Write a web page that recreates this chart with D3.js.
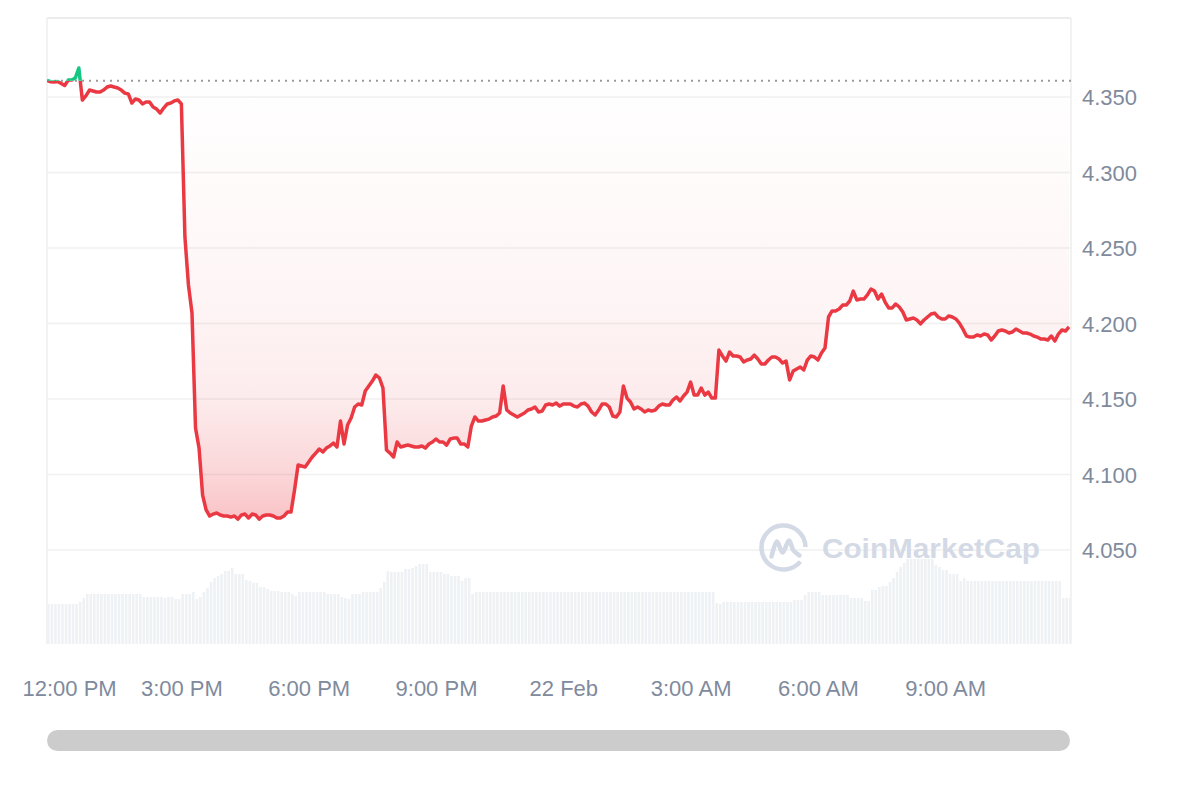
<!DOCTYPE html>
<html>
<head>
<meta charset="utf-8">
<script src="https://cdnjs.cloudflare.com/ajax/libs/d3/7.8.5/d3.min.js"></script>
<style>
body{margin:0;background:#fff;}
text{font-family:"Liberation Sans",Arial,sans-serif;}
</style>
</head>
<body>
<svg id="chart" width="1200" height="800"></svg>
<script>
// 5 minute points, 21 Feb 11:50 -> 22 Feb 11:55
var startTime = new Date(2024,1,21,11,50)
var stepMinutes = 5

var prices = [
4.3610,4.3601,4.3600,4.3603,4.3590,4.3576,4.3612,4.3613,4.3626,4.3692,
4.3480,4.3507,4.3546,4.3540,4.3533,4.3533,4.3546,4.3566,4.3573,4.3566,
4.3560,4.3546,4.3526,4.3520,4.3460,4.3487,4.3480,4.3454,4.3467,4.3467,
4.3434,4.3420,4.3394,4.3427,4.3454,4.3460,4.3474,4.3480,4.3454,4.2573,
4.2255,4.2069,4.1308,4.1175,4.0864,4.0765,4.0725,4.0738,4.0745,4.0732,
4.0725,4.0725,4.0718,4.0725,4.0705,4.0732,4.0738,4.0712,4.0738,4.0732,
4.0705,4.0725,4.0732,4.0732,4.0725,4.0712,4.0712,4.0725,4.0751,4.0751,
4.0897,4.1063,4.1056,4.1049,4.1083,4.1116,4.1142,4.1169,4.1149,4.1175,
4.1189,4.1208,4.1182,4.1354,4.1202,4.1328,4.1374,4.1447,4.1467,4.1460,
4.1553,4.1586,4.1619,4.1659,4.1639,4.1573,4.1162,4.1142,4.1116,4.1215,
4.1182,4.1189,4.1195,4.1189,4.1182,4.1182,4.1189,4.1175,4.1202,4.1215,
4.1235,4.1215,4.1215,4.1195,4.1235,4.1241,4.1241,4.1202,4.1202,4.1182,
4.1321,4.1381,4.1354,4.1354,4.1361,4.1367,4.1381,4.1387,4.1407,4.1586,
4.1427,4.1407,4.1394,4.1381,4.1394,4.1407,4.1427,4.1434,4.1447,4.1414,
4.1420,4.1460,4.1467,4.1460,4.1473,4.1453,4.1467,4.1467,4.1467,4.1453,
4.1447,4.1467,4.1473,4.1453,4.1414,4.1394,4.1427,4.1467,4.1467,4.1447,
4.1387,4.1381,4.1414,4.1586,4.1506,4.1480,4.1434,4.1447,4.1434,4.1414,
4.1427,4.1420,4.1427,4.1453,4.1467,4.1460,4.1460,4.1493,4.1513,4.1487,
4.1520,4.1546,4.1612,4.1526,4.1526,4.1573,4.1526,4.1546,4.1506,4.1506,
4.1824,4.1785,4.1751,4.1811,4.1785,4.1785,4.1778,4.1745,4.1758,4.1765,
4.1791,4.1765,4.1732,4.1732,4.1758,4.1778,4.1778,4.1765,4.1738,4.1751,
4.1626,4.1685,4.1699,4.1712,4.1692,4.1758,4.1785,4.1778,4.1758,4.1805,
4.1838,4.2043,4.2083,4.2083,4.2096,4.2122,4.2122,4.2149,4.2215,4.2156,
4.2162,4.2162,4.2189,4.2228,4.2215,4.2162,4.2195,4.2142,4.2103,4.2103,
4.2129,4.2109,4.2076,4.2023,4.2030,4.2036,4.2023,4.1997,4.2023,4.2043,
4.2063,4.2069,4.2043,4.2030,4.2030,4.2050,4.2043,4.2030,4.2003,4.1963,
4.1917,4.1910,4.1910,4.1924,4.1917,4.1930,4.1924,4.1891,4.1917,4.1950,
4.1957,4.1950,4.1937,4.1944,4.1963,4.1950,4.1937,4.1937,4.1930,4.1917,
4.1910,4.1897,4.1897,4.1891,4.1917,4.1884,4.1930,4.1957,4.1950,4.1977
]

// volume, arbitrary units
var volumes = [
4.0,4.0,4.0,4.0,4.0,4.0,4.0,4.0,4.0,4.2,
4.6,5.0,5.0,5.0,5.0,5.0,5.0,5.0,5.0,5.0,
5.0,5.0,5.0,5.0,5.0,5.0,5.0,4.7,4.7,4.7,
4.7,4.7,4.7,4.6,4.7,4.7,4.5,4.5,5.0,5.0,
5.0,5.2,4.5,4.7,5.2,5.6,6.2,6.6,6.8,7.0,
7.3,7.3,7.6,7.0,7.0,7.0,6.4,6.3,6.1,6.1,
5.7,5.7,5.5,5.3,5.3,5.3,5.2,5.2,5.2,5.0,
4.8,5.2,5.2,5.2,5.2,5.2,5.2,5.2,5.2,5.0,
5.0,5.0,5.0,4.7,4.6,4.5,5.0,5.0,5.0,5.2,
5.2,5.2,5.2,5.2,5.6,6.2,7.3,7.2,7.2,7.2,
7.2,7.5,7.5,7.6,7.8,8.0,8.0,8.0,7.2,7.2,
7.2,7.2,7.0,7.0,6.8,6.8,6.8,6.3,6.6,6.6,
5.0,5.2,5.2,5.2,5.2,5.2,5.2,5.2,5.2,5.2,
5.2,5.2,5.2,5.2,5.2,5.2,5.2,5.2,5.2,5.2,
5.2,5.2,5.2,5.2,5.2,5.2,5.2,5.2,5.2,5.2,
5.2,5.2,5.2,5.2,5.2,5.2,5.2,5.2,5.2,5.2,
5.2,5.2,5.2,5.2,5.2,5.2,5.2,5.2,5.2,5.2,
5.2,5.2,5.2,5.2,5.2,5.2,5.2,5.2,5.2,5.2,
5.2,5.2,5.2,5.2,5.2,5.2,5.2,5.2,5.2,4.1,
4.0,4.2,4.2,4.2,4.2,4.2,4.2,4.2,4.2,4.2,
4.2,4.2,4.2,4.2,4.2,4.2,4.2,4.2,4.2,4.2,
4.2,4.4,4.4,4.4,4.9,5.2,5.2,5.2,5.2,4.9,
4.9,4.9,4.9,4.9,4.9,4.9,4.9,4.6,4.6,4.6,
4.6,4.3,4.3,5.4,5.4,5.7,5.8,5.8,6.2,6.6,
7.2,7.7,8.1,8.5,8.5,8.5,8.5,8.5,8.5,8.5,
8.5,7.9,7.7,7.4,7.4,7.0,7.0,7.0,6.3,6.6,
6.3,6.3,6.3,6.3,6.3,6.3,6.3,6.3,6.3,6.3,
6.3,6.3,6.3,6.3,6.3,6.3,6.3,6.3,6.3,6.3,
6.3,6.3,6.3,6.3,6.3,6.3,6.3,4.6,4.6,4.6
]

var openPrice = 4.3608
var priceTicks = [4.05,4.10,4.15,4.20,4.25,4.30,4.35]

var red = "#ea3943"
var green = "#16c784"
var textColor = "#808a9d"

var data = prices.map(function(p,i){
    return {
        time:new Date(startTime.getTime()+i*stepMinutes*60000),
        price:p,
        volume:volumes[i]
    }
})

var plot = {left:47,right:1071,top:18,bottom:644}

var svg = d3.select("#chart")

var xScale = d3.scaleTime()
    .domain(d3.extent(data,function(d){return d.time}))
    .range([plot.left,1069])
var yScale = d3.scaleLinear()
    .domain([4.05,4.35])
    .range([550,97])
var volScale = d3.scaleLinear()
    .domain([0,10])
    .range([plot.bottom,plot.bottom-100])

var baseY = yScale(openPrice)
var minY = yScale(d3.min(prices))
var maxY = yScale(d3.max(prices))

//gradients + clips
var defs = svg.append("defs")
var redGrad = defs.append("linearGradient")
    .attr("id","redGrad")
    .attr("gradientUnits","userSpaceOnUse")
    .attr("x1",0).attr("x2",0)
    .attr("y1",baseY).attr("y2",minY)
var redStops = [[0,0],[0.2,0.02],[0.5,0.05],[0.73,0.1],[0.9,0.21],[1,0.3]]
redStops.forEach(function(s){
    redGrad.append("stop").attr("offset",s[0])
        .attr("stop-color",red).attr("stop-opacity",s[1])
})
var greenGrad = defs.append("linearGradient")
    .attr("id","greenGrad")
    .attr("gradientUnits","userSpaceOnUse")
    .attr("x1",0).attr("x2",0)
    .attr("y1",baseY).attr("y2",maxY)
greenGrad.append("stop").attr("offset",0).attr("stop-color",green).attr("stop-opacity",0)
greenGrad.append("stop").attr("offset",1).attr("stop-color",green).attr("stop-opacity",0.3)

defs.append("clipPath").attr("id","clipAbove")
    .append("rect")
    .attr("x",plot.left).attr("y",0)
    .attr("width",plot.right-plot.left).attr("height",baseY)
defs.append("clipPath").attr("id","clipBelow")
    .append("rect")
    .attr("x",plot.left).attr("y",baseY)
    .attr("width",plot.right-plot.left).attr("height",plot.bottom-baseY)
defs.append("clipPath").attr("id","clipPlot")
    .append("rect")
    .attr("x",plot.left).attr("y",plot.top)
    .attr("width",plot.right-plot.left).attr("height",plot.bottom-plot.top)

//frame + grid
var frame = svg.append("g")
frame.selectAll("line.grid")
    .data(priceTicks)
    .enter()
    .append("line")
    .classed("grid",true)
    .attr("x1",plot.left).attr("x2",plot.right)
    .attr("y1",function(d){return yScale(d)})
    .attr("y2",function(d){return yScale(d)})
    .attr("stroke","#f0f0f0")
    .attr("stroke-width",1.5)
frame.append("line")
    .attr("x1",plot.left).attr("x2",plot.right)
    .attr("y1",plot.top).attr("y2",plot.top)
    .attr("stroke","#e6e6e6").attr("stroke-width",1.5)
frame.append("line")
    .attr("x1",plot.left).attr("x2",plot.left)
    .attr("y1",plot.top).attr("y2",plot.bottom)
    .attr("stroke","#eeeeee").attr("stroke-width",1.5)
frame.append("line")
    .attr("x1",plot.right).attr("x2",plot.right)
    .attr("y1",plot.top).attr("y2",plot.bottom)
    .attr("stroke","#eeeeee").attr("stroke-width",1.5)

//volume bars
var barW = (xScale(data[1].time)-xScale(data[0].time))-0.9
svg.append("g")
    .attr("clip-path","url(#clipPlot)")
    .selectAll("rect")
    .data(data)
    .enter()
    .append("rect")
    .attr("x",function(d){return xScale(d.time)})
    .attr("y",function(d){return volScale(d.volume)})
    .attr("width",barW)
    .attr("height",function(d){return plot.bottom-volScale(d.volume)})
    .attr("fill","#eff2f5")

//area between price and open
var area = d3.area()
    .x(function(d){return xScale(d.time)})
    .y0(baseY)
    .y1(function(d){return yScale(d.price)})
svg.append("path")
    .datum(data)
    .attr("d",area)
    .attr("fill","url(#redGrad)")
    .attr("clip-path","url(#clipBelow)")
svg.append("path")
    .datum(data)
    .attr("d",area)
    .attr("fill","url(#greenGrad)")
    .attr("clip-path","url(#clipAbove)")

//watermark
var wmColor = "#d3d9e5"
var wm = svg.append("g").attr("transform","translate(783.5,547.5)")
wm.append("circle")
    .attr("r",22)
    .attr("fill","none")
    .attr("stroke",wmColor)
    .attr("stroke-width",4.5)
    .attr("stroke-dasharray",(2*Math.PI*22*0.88)+" "+(2*Math.PI*22*0.12))
    .attr("transform","rotate(40)")
wm.append("path")
    .attr("d",d3.line().curve(d3.curveCatmullRom)([[-12,9],[-6.5,-6],[-1,5],[5.5,-7],[10,3],[16,8]]))
    .attr("fill","none")
    .attr("stroke",wmColor)
    .attr("stroke-width",4.5)
    .attr("stroke-linecap","round")
svg.append("text")
    .text("CoinMarketCap")
    .attr("x",822).attr("y",558)
    .attr("textLength",218)
    .attr("lengthAdjust","spacingAndGlyphs")
    .attr("font-size",27)
    .attr("font-family","Inter, Roboto, sans-serif")
    .attr("font-weight",600)
    .attr("fill",wmColor)

//open price dotted line
svg.append("line")
    .attr("x1",plot.left).attr("x2",plot.right)
    .attr("y1",baseY).attr("y2",baseY)
    .attr("stroke","#9a9a9a")
    .attr("stroke-width",2)
    .attr("stroke-dasharray","2 5")

//price line
var line = d3.line()
    .x(function(d){return xScale(d.time)})
    .y(function(d){return yScale(d.price)})
svg.append("path")
    .datum(data)
    .attr("d",line)
    .attr("fill","none")
    .attr("stroke",red)
    .attr("stroke-width",3.5)
    .attr("stroke-linejoin","round")
    .attr("clip-path","url(#clipBelow)")
svg.append("path")
    .datum(data)
    .attr("d",line)
    .attr("fill","none")
    .attr("stroke",green)
    .attr("stroke-width",3.5)
    .attr("stroke-linejoin","round")
    .attr("clip-path","url(#clipAbove)")

//y axis
var yAxis = d3.axisRight(yScale)
    .tickValues(priceTicks)
    .tickFormat(d3.format(".3f"))
    .tickSize(0)
    .tickPadding(0)
var yg = svg.append("g")
    .attr("transform","translate(1082,0)")
    .call(yAxis)
yg.select(".domain").remove()
yg.selectAll("text")
    .attr("font-size",22)
    .attr("font-family","Liberation Sans, Arial, sans-serif")
    .attr("fill",textColor)
    .attr("dy","0.35em")

//x axis
var hourFmt = d3.timeFormat("%-I:%M %p")
var dayFmt = d3.timeFormat("%-d %b")
var xAxis = d3.axisBottom(xScale)
    .ticks(d3.timeHour.every(3))
    .tickFormat(function(d){
        return d.getHours()==0 ? dayFmt(d) : hourFmt(d)
    })
    .tickSize(0)
var xg = svg.append("g")
    .attr("transform","translate(0,696)")
    .call(xAxis)
xg.select(".domain").remove()
xg.selectAll("text")
    .attr("y",0)
    .attr("dy",0)
    .attr("font-size",22)
    .attr("font-family","Liberation Sans, Arial, sans-serif")
    .attr("fill",textColor)
// keep first label inside the page like the original
xg.selectAll(".tick").each(function(d){
    var t = d3.select(this).select("text")
    var w = t.node().getComputedTextLength()
    var cx = xScale(d)
    if(cx-w/2<22){ t.attr("x",22+w/2-cx) }
})

//scrollbar
svg.append("rect")
    .attr("x",plot.left).attr("y",730)
    .attr("width",1023).attr("height",21)
    .attr("rx",10.5)
    .attr("fill","#cccccc")
</script>
</body>
</html>
